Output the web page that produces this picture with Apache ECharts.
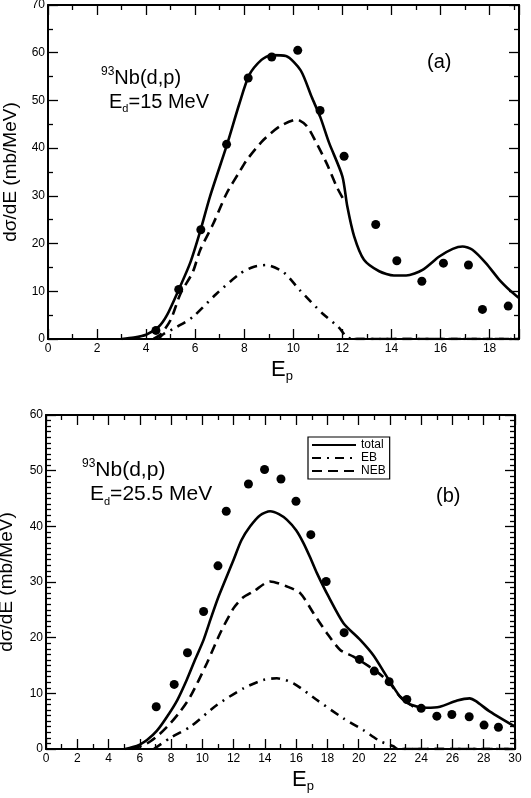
<!DOCTYPE html>
<html>
<head>
<meta charset="utf-8">
<script src="https://cdn.jsdelivr.net/npm/echarts@6/dist/echarts.min.js"></script>
<style>html,body{margin:0;padding:0;background:#fff}#c{width:531px;height:798px}</style>
</head>
<body>
<div id="c"></div>
<script>
// ---------- Panel (a): 93Nb(d,p), Ed = 15 MeV ----------
const aExpE = [4.40, 5.33, 6.23, 7.28, 8.16, 9.12, 10.18, 11.09, 12.07, 13.36, 14.22, 15.24, 16.12, 17.14, 17.71, 18.76];
const aExpY = [1.8, 10.4, 22.9, 40.8, 54.7, 59.1, 60.5, 47.9, 38.3, 24.0, 16.4, 12.1, 15.9, 15.5, 6.2, 6.9];
const aTotalE = [3.0, 3.5, 4.0, 4.5, 4.85, 5.3, 5.8, 6.2, 6.6, 7.3, 7.8, 8.2, 8.7, 9.1, 9.7, 10.3, 10.75, 11.1, 11.46, 12.0, 12.2, 12.48, 12.88, 13.5, 14.1, 14.6, 15.27, 15.95, 16.5, 16.9, 17.3, 17.85, 18.4, 18.87, 19.2];
const aTotalY = [0, 0.3, 0.9, 2.5, 5.0, 10.0, 16.0, 22.5, 29.8, 40.8, 49.3, 55.3, 58.5, 59.5, 59.3, 56.3, 50.7, 46.5, 41.1, 34.1, 27.8, 21.5, 16.6, 14.2, 13.3, 13.3, 14.5, 17.3, 18.9, 19.4, 18.7, 15.9, 12.4, 10.0, 8.6];
const aNebE = [4.3, 4.6, 5.0, 5.4, 5.9, 6.2, 6.74, 7.28, 7.8, 8.1, 8.78, 9.46, 10.14, 10.55, 10.88, 11.36, 11.77, 12.07, 12.07, 12.5, 19.2];
const aNebY = [0, 1.0, 4.0, 9.5, 14.0, 18.6, 24.2, 30.5, 35.0, 37.5, 41.7, 44.6, 46.0, 44.6, 41.7, 36.8, 31.9, 29.0, null, 0, 0];
const aEbE = [4.5, 4.7, 5.24, 5.9, 6.87, 7.83, 8.37, 8.9, 9.6, 10.27, 11.2, 11.84, 12.18, 12.4, 19.2];
const aEbY = [0, 1.0, 2.5, 4.6, 9.5, 13.7, 15.1, 15.5, 14.0, 10.2, 5.3, 2.5, 0.4, 0, 0];

// ---------- Panel (b): 93Nb(d,p), Ed = 25.5 MeV ----------
const bExpE = [7.05, 8.2, 9.05, 10.08, 11.0, 11.53, 12.95, 13.98, 15.03, 15.99, 16.94, 17.92, 19.07, 20.05, 21.0, 21.95, 23.08, 24.0, 25.0, 25.96, 27.07, 28.02, 28.94];
const bExpY = [7.6, 11.6, 17.3, 24.7, 32.9, 42.7, 47.6, 50.2, 48.5, 44.5, 38.5, 30.1, 20.9, 16.1, 14.0, 12.1, 8.9, 7.3, 5.9, 6.2, 5.8, 4.3, 3.9];
const bTotalE = [5.07, 5.5, 6.0, 6.46, 7.1, 7.74, 8.4, 9.0, 9.5, 10.08, 10.55, 11.04, 12.0, 12.5, 13.06, 13.7, 14.34, 14.9, 15.4, 16.0, 16.47, 16.9, 17.33, 18.07, 19.03, 20.1, 20.95, 21.8, 22.65, 23.3, 24.36, 25.2, 26.3, 27.1, 27.5, 28.4, 30.0];
const bTotalY = [0, 0.3, 0.8, 1.6, 3.3, 5.8, 8.8, 12.4, 15.8, 19.6, 23.5, 27.4, 34.0, 37.5, 40.0, 42.0, 42.7, 42.2, 41.2, 39.3, 37.0, 34.4, 31.6, 27.4, 22.6, 19.6, 16.8, 13.0, 9.4, 8.0, 7.4, 7.6, 8.7, 9.1, 8.6, 6.7, 4.0];
const bNebE = [5.5, 6.46, 7.2, 7.95, 8.6, 9.23, 10.29, 11.14, 12.0, 12.6, 13.27, 14.34, 15.41, 16.26, 17.11, 17.97, 18.82, 19.67, 20.52, 21.16, 22.0, 22.65, 23.5, 23.5, 22.8, 30.0];
const bNebY = [0, 1.0, 2.5, 4.6, 6.8, 9.4, 15.4, 20.8, 25.3, 27.2, 28.3, 30.1, 29.2, 28.0, 24.4, 20.8, 17.8, 16.6, 15.1, 13.9, 11.8, 9.4, 7.6, null, 0, 0];
const bEbE = [6.9, 7.95, 9.23, 10.93, 12.63, 13.9, 14.77, 15.83, 17.33, 19.03, 20.3, 21.37, 22.22, 22.5, 30.0];
const bEbY = [0, 2.0, 4.0, 7.9, 10.9, 12.4, 12.7, 11.8, 8.8, 5.5, 3.4, 1.4, 0.5, 0, 0];

const legendNames = ['total', 'EB', 'NEB'];

// ---------- helpers ----------
const FONT = '"Liberation Sans", Arial, sans-serif';
function zip(xs, ys) { return xs.map((x, i) => [x, ys[i] === null ? '-' : ys[i]]); }

function xAx(grid, max, pos, labels) {
  return {
    type: 'value', gridIndex: grid, min: 0, max: max, interval: 2, position: pos,
    axisLine: { show: true, onZero: false, lineStyle: { color: '#000', width: 2 } },
    axisTick: { show: true, inside: true, length: 10, lineStyle: { color: '#000', width: 1.3 } },
    minorTick: { show: true, splitNumber: 2, length: 5, lineStyle: { color: '#000', width: 1.3 } },
    splitLine: { show: false }, minorSplitLine: { show: false },
    axisLabel: { show: labels, color: '#000', fontSize: 12, fontFamily: FONT, margin: 4, showMaxLabel: max % 2 === 0 }
  };
}
function yAx(grid, max, pos, labels, minorSplit, gap) {
  const o = {
    type: 'value', gridIndex: grid, min: 0, max: max, interval: 10, position: pos,
    axisLine: { show: true, onZero: false, lineStyle: { color: '#000', width: 2 } },
    axisTick: { show: true, inside: true, length: 10, lineStyle: { color: '#000', width: 1.3 } },
    minorTick: { show: true, splitNumber: minorSplit, length: 5, lineStyle: { color: '#000', width: 1.3 } },
    splitLine: { show: false }, minorSplitLine: { show: false },
    axisLabel: { show: labels, color: '#000', fontSize: 12, fontFamily: FONT, margin: 3 }
  };
  if (labels) {
    o.name = 'dσ/dE (mb/MeV)';
    o.nameLocation = 'middle';
    o.nameGap = gap;
    o.nameTextStyle = { color: '#000', fontSize: 19, fontFamily: FONT };
  }
  return o;
}
function lineS(name, xi, data, type) {
  return {
    name: name, type: 'line', xAxisIndex: xi, yAxisIndex: xi, data: data,
    symbol: 'none', showSymbol: false, smooth: 0.25, connectNulls: false,
    lineStyle: { color: '#000', width: 2.6, type: type, cap: 'butt' },
    itemStyle: { color: '#000' }
  };
}
function expS(xi, data) {
  return {
    name: 'exp', type: 'scatter', xAxisIndex: xi, yAxisIndex: xi, data: data,
    symbol: 'circle', symbolSize: 9, itemStyle: { color: '#000', opacity: 1 }
  };
}
const DASH = [10, 6];
const DASHDOT = [9, 6, 2, 6];

function txt(left, top, text, rich) {
  return { type: 'text', left: left, top: top, style: { text: text, rich: rich, fill: '#000', font: '20px ' + FONT } };
}
const richMain = {
  m: { fontSize: 20, fontFamily: FONT, lineHeight: 24, verticalAlign: 'middle', color: '#000' },
  s: { fontSize: 12, fontFamily: FONT, lineHeight: 12, verticalAlign: 'top', color: '#000' },
  d: { fontSize: 11, fontFamily: FONT, lineHeight: 11, verticalAlign: 'bottom', color: '#000' }
};
const richB = {
  m: { fontSize: 21, fontFamily: FONT, lineHeight: 25, verticalAlign: 'middle', color: '#000' },
  s: { fontSize: 12, fontFamily: FONT, lineHeight: 12, verticalAlign: 'top', color: '#000' },
  d: { fontSize: 11, fontFamily: FONT, lineHeight: 11, verticalAlign: 'bottom', color: '#000' }
};
const richEp = {
  m: { fontSize: 22, fontFamily: FONT, lineHeight: 26, verticalAlign: 'middle', color: '#000' },
  d: { fontSize: 13, fontFamily: FONT, lineHeight: 13, verticalAlign: 'bottom', color: '#000' }
};

const chart = echarts.init(document.getElementById('c'), null, { renderer: 'canvas' });
chart.setOption({
  animation: false,
  backgroundColor: '#fff',
  grid: [
    { left: 48, top: 5, width: 471, height: 334, outerBoundsMode: 'none' },
    { left: 46, top: 415, width: 469, height: 334, outerBoundsMode: 'none' }
  ],
  xAxis: [xAx(0, 19.2, 'bottom', true), xAx(0, 19.2, 'top', false), xAx(1, 30, 'bottom', true), xAx(1, 30, 'top', false)],
  yAxis: [yAx(0, 70, 'left', true, 2, 26), yAx(0, 70, 'right', false, 2, 0), yAx(1, 60, 'left', true, 10, 30), yAx(1, 60, 'right', false, 10, 0)],
  legend: {
    data: legendNames, orient: 'vertical', left: 308, top: 437,
    itemWidth: 44, itemHeight: 10, itemGap: 1, padding: [2, 4, 2, 3],
    borderColor: '#000', borderWidth: 1.2,
    itemStyle: { opacity: 0 },
    textStyle: { color: '#000', fontSize: 12, fontFamily: FONT },
    selectedMode: false
  },
  series: [
    lineS('total', 0, zip(aTotalE, aTotalY), 'solid'),
    lineS('NEB', 0, zip(aNebE, aNebY), DASH),
    lineS('EB', 0, zip(aEbE, aEbY), DASHDOT),
    expS(0, zip(aExpE, aExpY)),
    lineS('total', 2, zip(bTotalE, bTotalY), 'solid'),
    lineS('NEB', 2, zip(bNebE, bNebY), DASH),
    lineS('EB', 2, zip(bEbE, bEbY), DASHDOT),
    expS(2, zip(bExpE, bExpY))
  ],
  graphic: [
    txt(101, 66, '{s|93}{m|Nb(d,p)}', richMain),
    txt(109, 92, '{m|E}{d|d}{m|=15 MeV}', richMain),
    txt(427, 52, '{m|(a)}', richMain),
    txt(82, 458, '{s|93}{m|Nb(d,p)}', richB),
    txt(90, 484, '{m|E}{d|d}{m|=25.5 MeV}', richB),
    txt(436, 486, '{m|(b)}', richMain),
    txt(271, 359, '{m|E}{d|p}', richEp),
    txt(292, 769, '{m|E}{d|p}', richEp)
  ]
});
</script>
</body>
</html>
